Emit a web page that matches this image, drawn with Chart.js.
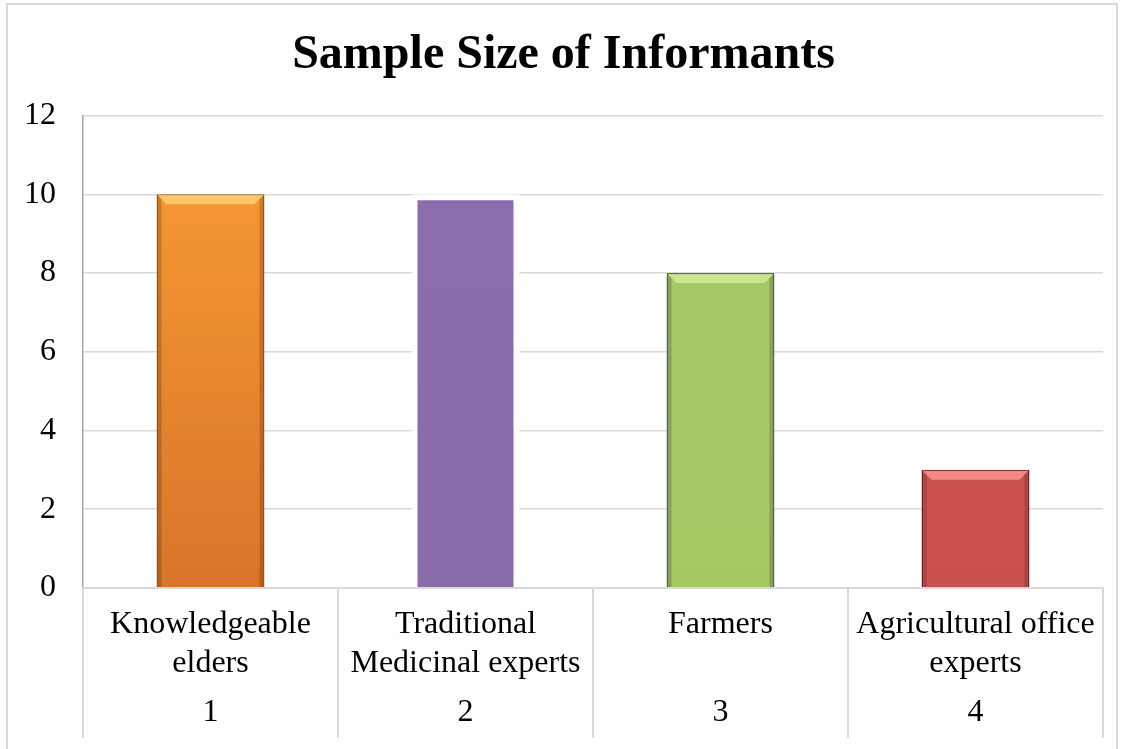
<!DOCTYPE html>
<html>
<head>
<meta charset="utf-8">
<script src="https://cdn.jsdelivr.net/npm/chart.js@4/dist/chart.umd.min.js"></script>
<style>
html,body{margin:0;padding:0;background:#fff;}
canvas{display:block;}
</style>
</head>
<body>
<canvas id="c" width="1121" height="749"></canvas>
<script>
// ---- data ----
const chartTitle = "Sample Size of Informants";
const categories = [["Knowledgeable", "elders"], ["Traditional", "Medicinal experts"], ["Farmers"], ["Agricultural office", "experts"]];
const categoryNumbers = ["1", "2", "3", "4"];
const informants = [10, 10, 8, 3];
const yMin = 0;
const yMax = 12;
const yStep = 2;

// ---- styles ----
const serif = "'Liberation Serif', 'Times New Roman', serif";
const barTop = ["#FA9D34", "#8A6DAA", "#A9C867", "#CE5955"];
const barBottom = ["#D8752A", "#8A6CAB", "#A6C563", "#C9514D"];
const barEdge = ["#A85A1A", "#FFFFFF", "#5E7631", "#6E2422"];
const barEdgeWidth = [1.5, 6, 2, 2];
const bevelLight = ["rgba(255,215,120,0.75)", null, "rgba(215,240,160,0.75)", "rgba(250,150,145,0.8)"];

const framePlugin = {
  id: 'frame',
  beforeDraw(chart) {
    const c = chart.ctx;
    c.save();
    c.fillStyle = '#ffffff';
    c.fillRect(0, 0, chart.width, chart.height);
    c.strokeStyle = '#d9d9d9';
    c.lineWidth = 2;
    c.strokeRect(7, 4, 1110, 800);
    c.restore();
  }
};

// soft bevel on top of each bar element (uses the library's own bar geometry)
const bevelPlugin = {
  id: 'bevel',
  afterDatasetsDraw(chart) {
    const c = chart.ctx;
    const meta = chart.getDatasetMeta(0);
    meta.data.forEach((bar, i) => {
      if (!bevelLight[i]) return;
      const p = bar.getProps(['x', 'y', 'base', 'width'], true);
      const l = p.x - p.width / 2 + 1, r = p.x + p.width / 2 - 1, t = p.y + 1, b = p.base;
      const bv = 9, sd = 4;
      c.save();
      c.fillStyle = bevelLight[i];
      c.beginPath();
      c.moveTo(l, t); c.lineTo(r, t); c.lineTo(r - bv, t + bv); c.lineTo(l + bv, t + bv); c.closePath();
      c.fill();
      c.fillStyle = 'rgba(0,0,0,0.18)';
      c.beginPath();
      c.moveTo(l, t); c.lineTo(l + sd, t + sd); c.lineTo(l + sd, b); c.lineTo(l, b); c.closePath();
      c.fill();
      c.beginPath();
      c.moveTo(r, t); c.lineTo(r - sd, t + sd); c.lineTo(r - sd, b); c.lineTo(r, b); c.closePath();
      c.fill();
      c.restore();
    });
  }
};

function barFill(ctx) {
  const i = ctx.dataIndex;
  const chart = ctx.chart;
  const area = chart.chartArea;
  if (!area) return barTop[i];
  const g = chart.ctx.createLinearGradient(0, area.top, 0, area.bottom);
  g.addColorStop(0, barTop[i]);
  g.addColorStop(1, barBottom[i]);
  return g;
}

new Chart(document.getElementById('c'), {
  type: 'bar',
  data: {
    labels: categories,
    datasets: [{
      data: informants,
      backgroundColor: barFill,
      borderColor: barEdge,
      borderWidth: barEdgeWidth,
      categoryPercentage: 1,
      barPercentage: 0.4235
    }]
  },
  options: {
    responsive: false,
    animation: false,
    layout: { padding: { left: 24, right: 18, top: 0, bottom: 18 } },
    plugins: {
      legend: { display: false },
      tooltip: { enabled: false },
      title: {
        display: true,
        text: chartTitle,
        color: '#000000',
        font: { family: serif, size: 48, weight: 'bold', lineHeight: 1.2 },
        padding: { top: 27, bottom: 31 }
      }
    },
    scales: {
      y: {
        min: yMin,
        max: yMax,
        ticks: {
          stepSize: yStep,
          padding: 27,
          color: '#000000',
          font: { family: serif, size: 32, lineHeight: 1.2 }
        },
        grid: { color: '#d9d9d9', lineWidth: 1.5, drawTicks: false },
        border: { display: true, color: '#a6a6a6', width: 1.5 },
        afterFit(scale) { scale.width = 59; }
      },
      x: {
        type: 'category',
        position: 'bottom',
        weight: 0,
        offset: true,
        ticks: {
          autoSkip: false,
          maxRotation: 0,
          minRotation: 0,
          padding: -76,
          color: '#000000',
          font: { family: serif, size: 32, lineHeight: 1.2 }
        },
        grid: { offset: true, drawOnChartArea: false, drawTicks: true, tickLength: 94, color: '#d9d9d9', lineWidth: 2 },
        border: { display: true, color: '#d9d9d9', width: 2 },
        afterFit(scale) { scale.height = 94.6; }
      },
      x2: {
        type: 'category',
        axis: 'x',
        position: 'bottom',
        weight: 1,
        labels: categoryNumbers,
        offset: true,
        ticks: {
          autoSkip: false,
          maxRotation: 0,
          minRotation: 0,
          padding: -44,
          color: '#000000',
          font: { family: serif, size: 32, lineHeight: 1.2 }
        },
        grid: { offset: true, drawOnChartArea: false, drawTicks: true, tickLength: 55, color: '#d9d9d9', lineWidth: 2 },
        border: { display: false },
        afterFit(scale) { scale.height = 48.6; }
      }
    }
  },
  plugins: [framePlugin, bevelPlugin]
});
</script>
</body>
</html>
